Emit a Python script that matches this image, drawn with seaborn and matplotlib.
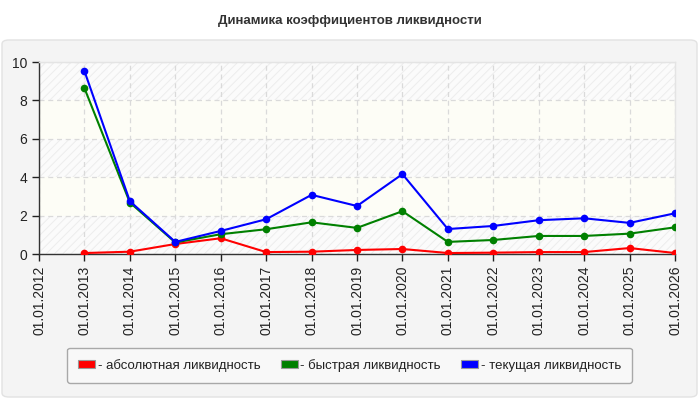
import pandas as pd
import matplotlib
matplotlib.use("Agg")
import matplotlib.pyplot as plt
from matplotlib.patches import FancyBboxPatch, Patch
import seaborn as sns

# values
years = [2013, 2014, 2015, 2016, 2017, 2018, 2019, 2020, 2021, 2022, 2023, 2024, 2025, 2026]
absolute = [0.05, 0.12, 0.52, 0.82, 0.10, 0.12, 0.21, 0.26, 0.05, 0.07, 0.10, 0.10, 0.31, 0.05]
quick = [8.64, 2.68, 0.60, 1.03, 1.29, 1.65, 1.36, 2.23, 0.63, 0.73, 0.94, 0.94, 1.06, 1.39]
current = [9.53, 2.75, 0.63, 1.20, 1.81, 3.08, 2.50, 4.16, 1.30, 1.46, 1.76, 1.86, 1.62, 2.12]
tick_years = list(range(2012, 2027))
series_names = ["- абсолютная ликвидность", "- быстрая ликвидность", "- текущая ликвидность"]
colors = ["#ff0000", "#008000", "#0000ff"]

df = pd.DataFrame({
    "year": years * 3,
    "value": absolute + quick + current,
    "series": [series_names[0]] * len(years) + [series_names[1]] * len(years) + [series_names[2]] * len(years),
})

sns.set_style("white")
plt.rcParams["font.family"] = ["Liberation Sans", "DejaVu Sans"]
plt.rcParams["hatch.linewidth"] = 0.7

fig = plt.figure(figsize=(7, 4), dpi=100)
fig.patch.set_facecolor("white")

# grey rounded panel behind the chart
panel = FancyBboxPatch((2 / 700, 3 / 400), 695 / 700, 357 / 400,
                       boxstyle="round,pad=0,rounding_size=0.01",
                       transform=fig.transFigure, facecolor="#f4f4f4",
                       edgecolor="#e2e2e2", linewidth=1, zorder=-10)
fig.patches.append(panel)

fig.text(0.5, 1 - 21 / 400, "Динамика коэффициентов ликвидности", ha="center", va="center",
         fontsize=9.5, fontweight="bold", color="#333333")

ax = fig.add_axes([39 / 700, 146 / 400, 636 / 700, 192 / 400])
ax.set_zorder(2)
ax.set_facecolor("#fdfdf8")

# alternating bands, hatched and plain
for i, y0 in enumerate(range(0, 10, 2)):
    if i % 2 == 0:
        ax.axhspan(y0, y0 + 2, facecolor="#fbfbfb", edgecolor="#ededed", hatch="////",
                   linewidth=0, zorder=0)
    else:
        ax.axhspan(y0, y0 + 2, facecolor="#fdfdf6", linewidth=0, zorder=0)

sns.lineplot(data=df, x="year", y="value", hue="series", palette=colors, marker="o",
             markersize=5.5, markeredgewidth=0, linewidth=1.5, legend=False, ax=ax, zorder=3)

ax.set_xlim(2012, 2026)
ax.set_ylim(0, 10)
ax.set_xticks(tick_years)
ax.set_xticklabels(["01.01.%d" % y for y in tick_years], rotation=90, fontsize=10, color="#222222")
ax.set_yticks(range(0, 11, 2))
ax.tick_params(axis="y", labelsize=10, colors="#222222", length=5, width=1, direction="out", left=True)
ax.tick_params(axis="x", length=5, width=1, direction="out", bottom=True, colors="#222222")
ax.set_xlabel("")
ax.set_ylabel("")
ax.grid(True, color="#dadada", linestyle=(0, (4, 3)), linewidth=0.9, zorder=1)
ax.set_axisbelow(True)
for side in ["left", "bottom"]:
    ax.spines[side].set_color("#333333")
    ax.spines[side].set_linewidth(1)
for side in ["top", "right"]:
    ax.spines[side].set_color("#e4e4e4")
    ax.spines[side].set_linewidth(1)

handles = [Patch(facecolor=c, edgecolor="#999999", linewidth=0.8) for c in colors]
leg = fig.legend(handles, series_names, loc="lower left", ncol=3, mode="expand",
                 bbox_to_anchor=(67 / 700, 17 / 400, 565 / 700, 38 / 400),
                 fontsize=9.5, frameon=True, fancybox=True, handlelength=1.3, handleheight=0.6,
                 handletextpad=0.2, borderaxespad=0, borderpad=0.85, labelcolor="#222222")
frame = leg.get_frame()
frame.set_facecolor("#f8f8f8")
frame.set_edgecolor("#a8a8a8")
frame.set_linewidth(1)
frame.set_alpha(1)

fig.savefig("out.png", dpi=100)
